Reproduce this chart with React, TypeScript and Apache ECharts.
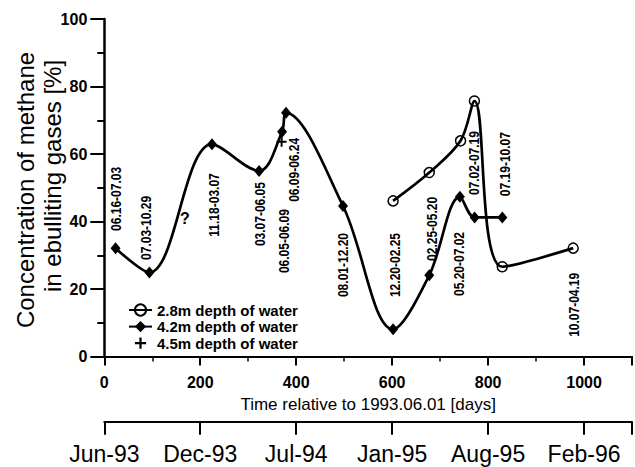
import React, { useEffect, useRef } from "react";
import * as echarts from "echarts";

// ---- data ----
const days42 = [23.5, 94, 224.4, 322.6, 370.6, 378.8, 497.6, 602, 677.4, 741.2, 772, 829.7];
const methane42 = [32.1, 24.9, 62.9, 55, 66.6, 72.2, 44.6, 8.1, 24.1, 47.3, 41.2, 41.2];

const days28 = [602, 677.4, 742.6, 771.5, 829.5, 977.4];
const methane28 = [46.1, 54.5, 63.9, 75.7, 26.6, 32.1];

const days45 = [369.6];
const methane45 = [63.6];

const periodLabels = [
  "06.16-07.03", "07.03-10.29", "11.18-03.07", "03.07-06.05", "06.05-06.09",
  "06.09-06.24", "08.01-12.20", "12.20-02.25", "02.25-05.20", "05.20-07.02",
  "07.02-07.19", "07.19-10.07", "10.07-04.19",
];
const periodLabelDay = [24, 88, 228, 324.7, 374, 394.7, 497.6, 606.8, 683, 738.5, 771.5, 835.3, 979.4];
const periodLabelPct = [46.7, 38.1, 44.9, 42.2, 34.2, 55.3, 27.1, 27.1, 37.8, 27.4, 57.3, 57, 15.3];

const questionDay = [168];
const questionPct = [41];

const dayTicks = [0, 200, 400, 600, 800, 1000];
const dateTickLabels = ["Jun-93", "Dec-93", "Jul-94", "Jan-95", "Aug-95", "Feb-96"];

const seriesNames = ["2.8m depth of water", "4.2m depth of water", "4.5m depth of water"];

const FONT = "'Liberation Sans', Arial, sans-serif";
const PLUS = "path://M4,0H6V4H10V6H6V10H4V6H0V4H4Z";

export default function App() {
  const ref = useRef<HTMLDivElement>(null);

  useEffect(() => {
    if (!ref.current) return;
    const chart = echarts.init(ref.current, null, { renderer: "svg" });

    const xBase = {
      type: "value",
      min: 0,
      max: 1100,
      position: "bottom",
      splitLine: { show: false },
    };

    const option: any = {
      animation: false,
      backgroundColor: "#fff",
      grid: { left: 104.3, top: 19, width: 534.3, height: 337.5 },
      legend: {
        data: seriesNames,
        orient: "vertical",
        left: 123,
        top: 297.5,
        itemWidth: 23,
        itemHeight: 14,
        itemGap: 1.6,
        textStyle: { fontSize: 15, fontWeight: "bold", fontFamily: FONT, color: "#000", lineHeight: 14 },
        selectedMode: false,
      },
      xAxis: [
        {
          ...xBase,
          interval: 200,
          axisLine: { onZero: false, lineStyle: { color: "#000", width: 2 } },
          axisTick: { length: 9, lineStyle: { color: "#000", width: 2 } },
          axisLabel: {
            margin: 18,
            fontSize: 16,
            fontWeight: "bold",
            fontFamily: FONT,
            color: "#000",
            formatter: (v: number) => (dayTicks.indexOf(v) >= 0 ? String(v) : ""),
          },
          name: "Time relative to 1993.06.01 [days]",
          nameLocation: "middle",
          nameGap: 39,
          nameTextStyle: { fontSize: 17, fontFamily: FONT, color: "#000" },
        },
        {
          ...xBase,
          interval: 100,
          axisLine: { show: false, onZero: false },
          axisTick: { length: 5, lineStyle: { color: "#000", width: 1.5 } },
          axisLabel: { show: false },
        },
        {
          ...xBase,
          interval: 200,
          offset: 65.2,
          axisLine: { onZero: false, lineStyle: { color: "#000", width: 2 } },
          axisTick: { length: 13, lineStyle: { color: "#000", width: 2 } },
          axisLabel: {
            margin: 21,
            fontSize: 23,
            fontFamily: FONT,
            color: "#000",
            formatter: (v: number) => {
              const i = dayTicks.indexOf(v);
              return i >= 0 ? dateTickLabels[i] : "";
            },
          },
        },
      ],
      yAxis: {
        type: "value",
        min: 0,
        max: 100,
        interval: 20,
        splitLine: { show: false },
        axisLine: { onZero: false, lineStyle: { color: "#000", width: 2.5 } },
        axisTick: { length: 14, lineStyle: { color: "#000", width: 2 } },
        minorTick: { show: true, splitNumber: 2, length: 7, lineStyle: { color: "#000", width: 2 } },
        minorSplitLine: { show: false },
        axisLabel: { margin: 17, fontSize: 16, fontWeight: "bold", fontFamily: FONT, color: "#000" },
      },
      graphic: [
        {
          type: "text",
          x: 25,
          y: 190,
          rotation: Math.PI / 2,
          style: {
            text: "Concentration of methane",
            fontSize: 24,
            fontFamily: FONT,
            fill: "#000",
            align: "center",
            verticalAlign: "middle",
          },
        },
        {
          type: "text",
          x: 52,
          y: 176,
          rotation: Math.PI / 2,
          style: {
            text: "in ebulliting gases [%]",
            fontSize: 24,
            fontFamily: FONT,
            fill: "#000",
            align: "center",
            verticalAlign: "middle",
          },
        },
      ],
      series: [
        {
          name: seriesNames[0],
          type: "line",
          smooth: 0.35,
          data: days28.map((d, i) => [d, methane28[i]]),
          symbol: "circle",
          symbolSize: 10,
          lineStyle: { color: "#000", width: 2.7 },
          itemStyle: { color: "rgba(255,255,255,0)", borderColor: "#000", borderWidth: 1.5 },
          z: 3,
        },
        {
          name: seriesNames[1],
          type: "line",
          smooth: 0.35,
          data: days42.map((d, i) => [d, methane42[i]]),
          symbol: "diamond",
          symbolSize: [10, 12],
          lineStyle: { color: "#000", width: 2.7 },
          itemStyle: { color: "#000" },
          z: 3,
        },
        {
          name: seriesNames[2],
          type: "line",
          data: days45.map((d, i) => [d, methane45[i]]),
          symbol: PLUS,
          symbolSize: 10,
          lineStyle: { color: "#000", width: 2, opacity: 0 },
          itemStyle: { color: "#000" },
          z: 3,
        },
        {
          type: "custom",
          silent: true,
          data: periodLabelDay.map((d, i) => [d, periodLabelPct[i]]),
          encode: { x: 0, y: 1 },
          renderItem: (params: any, api: any) => {
            const p = api.coord([api.value(0), api.value(1)]);
            return {
              type: "text",
              x: p[0],
              y: p[1],
              rotation: Math.PI / 2,
              scaleX: 0.8,
              style: {
                text: periodLabels[params.dataIndex],
                fontSize: 15,
                fontWeight: "bold",
                fontFamily: FONT,
                fill: "#000",
                align: "center",
                verticalAlign: "middle",
              },
            };
          },
          z: 4,
        },
        {
          type: "custom",
          silent: true,
          data: questionDay.map((d, i) => [d, questionPct[i]]),
          encode: { x: 0, y: 1 },
          renderItem: (params: any, api: any) => {
            const p = api.coord([api.value(0), api.value(1)]);
            return {
              type: "text",
              x: p[0],
              y: p[1],
              style: {
                text: "?",
                fontSize: 16,
                fontWeight: "bold",
                fontFamily: FONT,
                fill: "#000",
                align: "center",
                verticalAlign: "middle",
              },
            };
          },
          z: 4,
        },
      ],
    };

    chart.setOption(option);
    return () => chart.dispose();
  }, []);

  return (
    <div
      ref={ref}
      style={{ position: "absolute", left: 0, top: 0, width: 635, height: 467 }}
    />
  );
}
